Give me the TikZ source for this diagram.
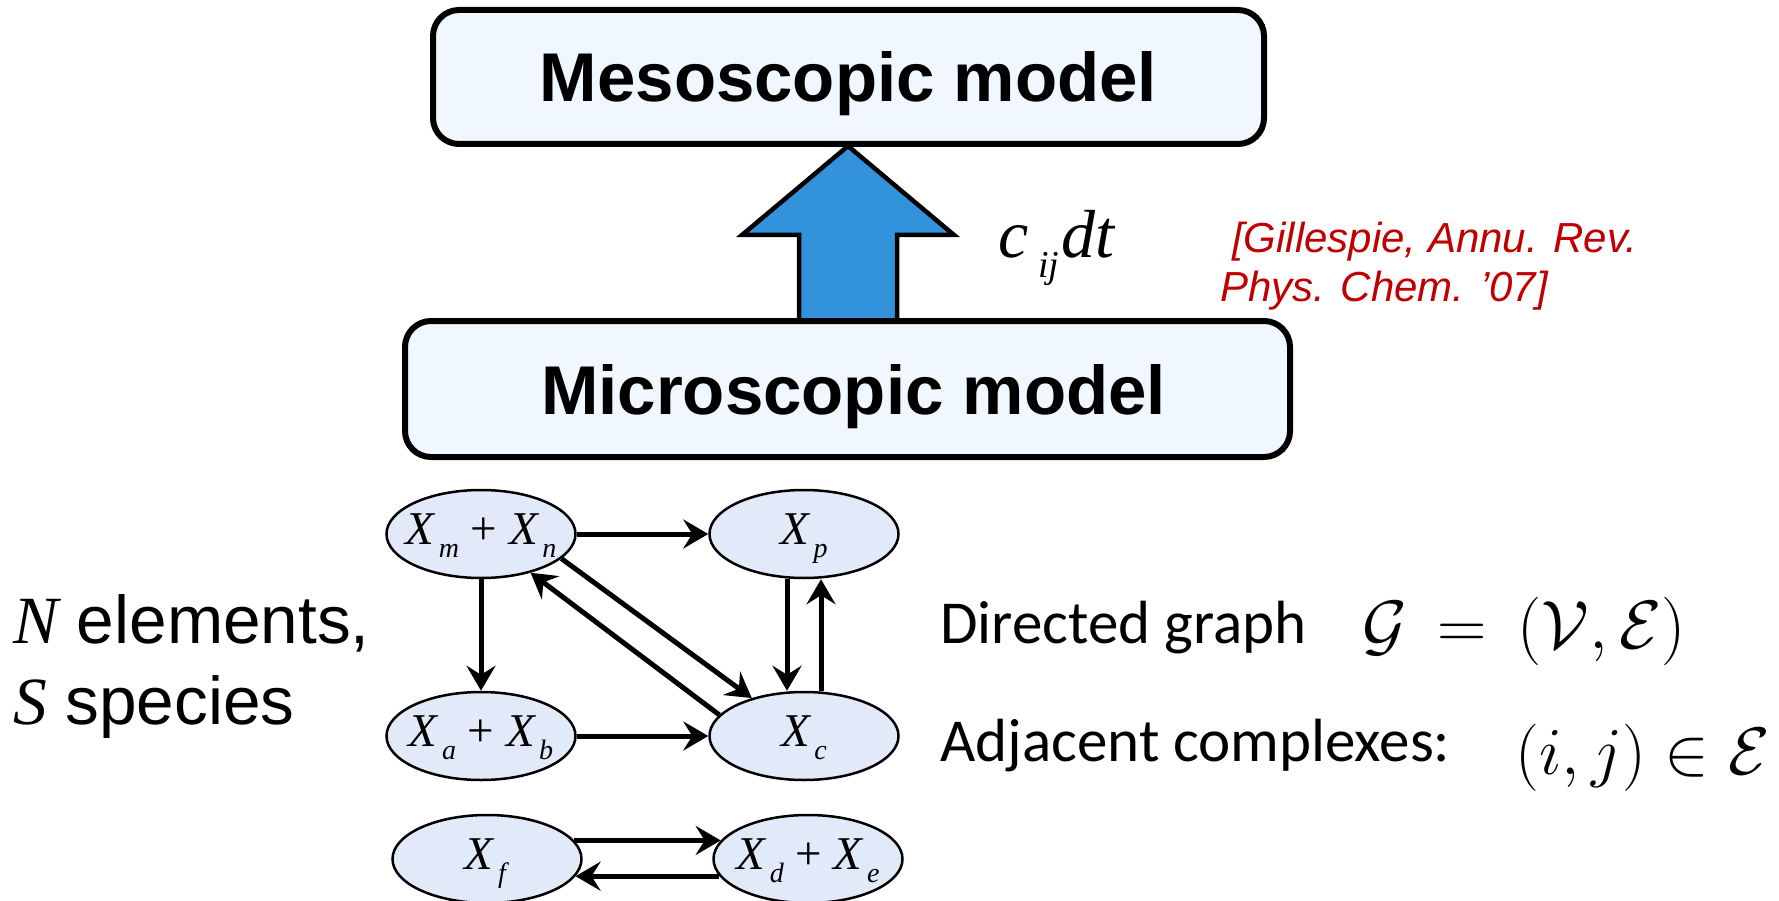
\documentclass[tikz,border=0pt]{standalone}
\usepackage[no-math]{fontspec}
\usepackage{graphicx}
\usetikzlibrary{shapes.geometric,arrows.meta}
\newfontfamily\arialf{Liberation Sans}
\newfontfamily\timesf{Liberation Serif}
\newfontfamily\calf{Carlito}
\definecolor{boxfill}{HTML}{F0F7FE}
\definecolor{ellfill}{HTML}{E2E9F9}
\definecolor{arrowblue}{HTML}{3392DC}
\definecolor{citered}{HTML}{C00000}
\newcommand\Xsub[1]{\textit{X}\kern3pt\raisebox{-13pt}{\fontsize{28}{28}\selectfont\textit{#1}}}
\newcommand\gtext[1]{\makebox[0pt]{#1}}
\begin{document}
\begin{tikzpicture}[x=1pt,y=-1pt,
  modelbox/.style={draw, line width=6pt, rounded corners=26pt, fill=boxfill,
    font=\arialf\bfseries\fontsize{69}{69}\selectfont, text height=50pt, text depth=0pt, inner sep=0pt},
  cplx/.style={ellipse, draw, line width=2.5pt, fill=ellfill, minimum width=189pt, minimum height=88pt,
    inner sep=0pt, font=\timesf\fontsize{47}{47}\selectfont, text height=24pt, text depth=4pt},
  rxn/.style={line width=5pt, -{Stealth[length=25pt,width=29pt,inset=9pt]}},
  bigarrow/.style={line width=4.5pt, fill=arrowblue, line join=miter},
  plain/.style={anchor=base west, inner sep=0pt}
]
\fill[white] (0,0) rectangle (1779,901);
\useasboundingbox (0,0) rectangle (1779,901);

% block arrow
\draw[bigarrow] (799,321) -- (799,235) -- (742,235) -- (848,146) -- (954,235) -- (897,235) -- (897,321) -- cycle;

% model boxes
\node[modelbox, minimum width=831pt, minimum height=134pt] (meso) at (848.5,77) {Mesoscopic model};
\node[modelbox, minimum width=885pt, minimum height=136pt] (micro) at (847.5,389) {\hspace*{12pt}Microscopic model};

% rate label and citation
\node[plain, font=\timesf\itshape\fontsize{68}{68}\selectfont] (rate) at (998,258)
  {c\kern10pt\raisebox{-20pt}{\fontsize{38}{38}\selectfont ij}\kern2pt dt};
\node[plain, font=\arialf\itshape\fontsize{42}{42}\selectfont, text=citered] (cite1) at (1232,253) {[Gillespie, Annu. Rev.};
\node[plain, font=\arialf\itshape\fontsize{42}{42}\selectfont, text=citered] (cite2) at (1220,301) {Phys. Chem. ’07]};

% left text
\node[plain, font=\arialf\fontsize{67.5}{67.5}\selectfont] (nel) at (13,643) {{\timesf\itshape N} elements,};
\node[plain, font=\arialf\fontsize{67.5}{67.5}\selectfont] (ssp) at (13,724) {{\timesf\itshape S} species};

% right text
\node[plain, font=\calf\fontsize{61}{61}\selectfont] (dg) at (940,643) {Directed graph};
\node[plain, scale=2.75, font=\Huge] (gdef) at (1362,648) {$\mathcal{G} \mkern3mu=\mkern3mu (\mathcal{V},\mathcal{E})$};
\node[plain, font=\calf\fontsize{61}{61}\selectfont] (adj) at (940,761) {Adjacent complexes:};
\node[plain, scale=2.7, font=\Huge] (ije) at (1515,774) {$(i,j)\in\mathcal{E}$};

% graph
\node[cplx] (mn) at (481,534) {\gtext{\Xsub{m} + \Xsub{n}}};
\node[cplx] (p)  at (804,534) {\gtext{\Xsub{p}}};
\node[cplx] (ab) at (481,736) {\gtext{\Xsub{a} + \Xsub{b}}};
\node[cplx] (c)  at (804,736) {\gtext{\Xsub{c}}};
\node[cplx] (f)  at (487,859) {\gtext{\Xsub{f}}};
\node[cplx] (de) at (808,859) {\gtext{\Xsub{d} + \Xsub{e}}};

\draw[rxn] (mn.east) -- (p.west);
\draw[rxn] (mn.south) -- (ab.north);
\draw[rxn] (ab.east) -- (c.west);
\draw[rxn] ([xshift=-17pt]p.south) -- ([xshift=-17pt]c.north);
\draw[rxn] ([xshift=17pt]c.north) -- ([xshift=17pt]p.south);
\draw[rxn] (mn.-17) -- (c.144);
\draw[rxn] (c.166) -- (mn.-38);
\draw[rxn] (f.12) -- (de.168);
\draw[rxn] (de.191) -- (f.-11);
\end{tikzpicture}
\end{document}
